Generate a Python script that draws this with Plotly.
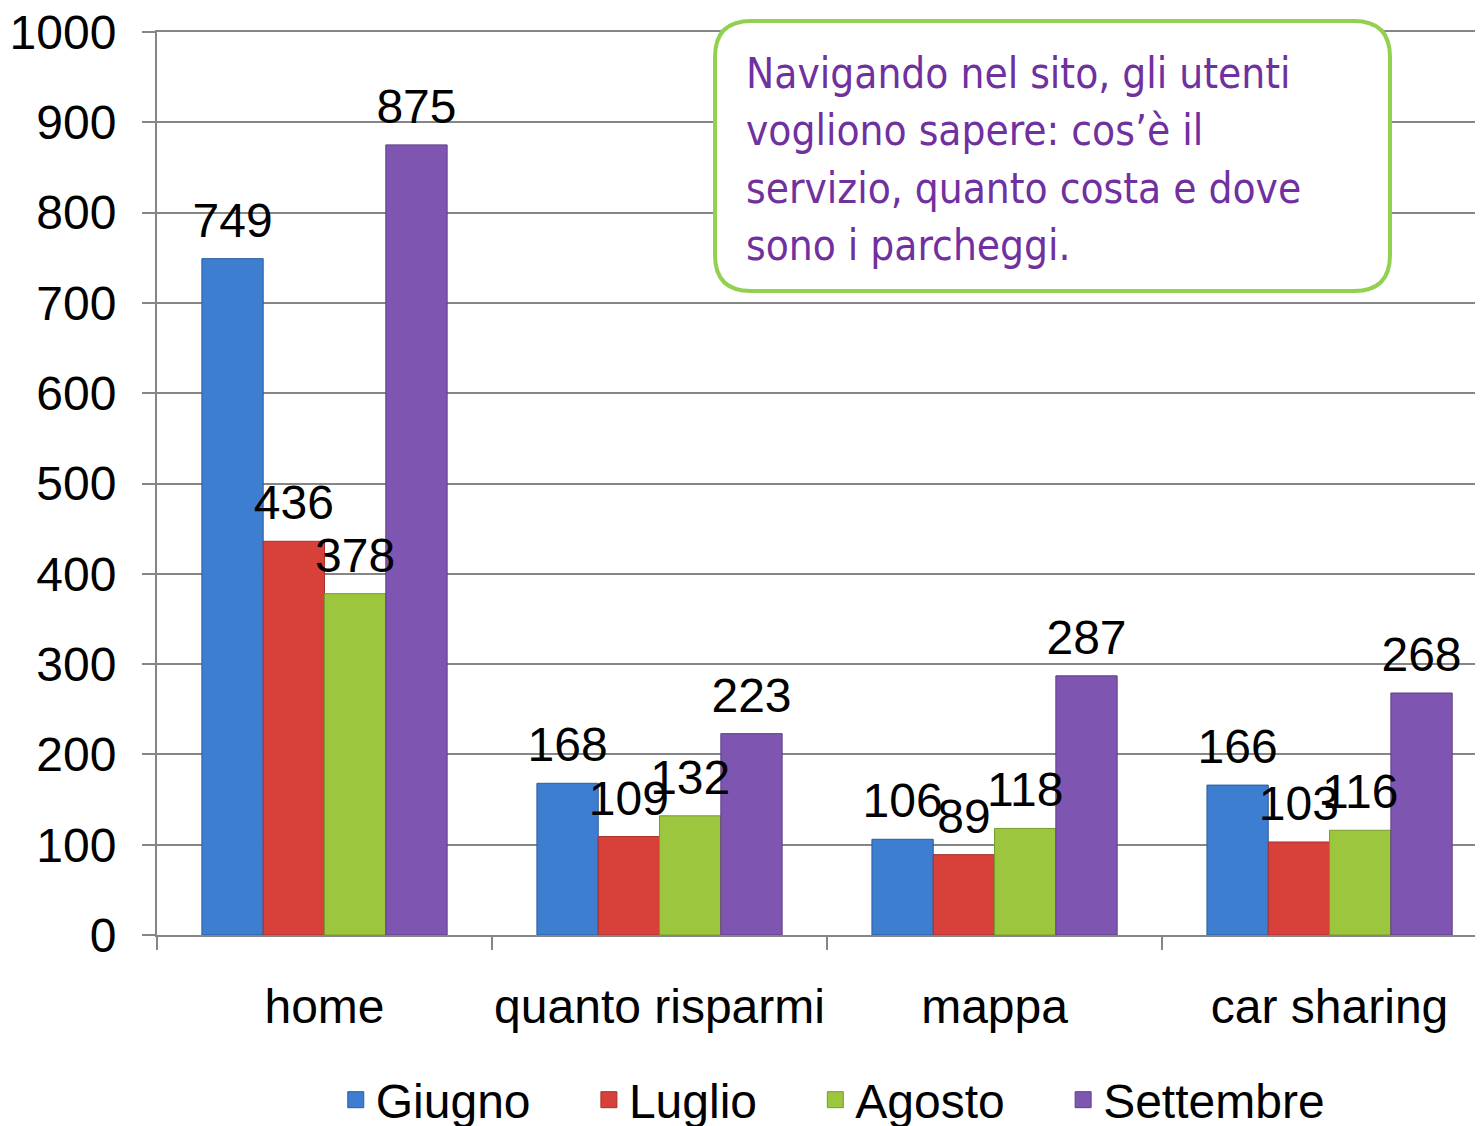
import plotly.graph_objects as go

categories = ["home", "quanto risparmi", "mappa", "car sharing"]
series_names = ["Giugno", "Luglio", "Agosto", "Settembre"]
giugno = [749, 168, 106, 166]
luglio = [436, 109, 89, 103]
agosto = [378, 132, 118, 116]
settembre = [875, 223, 287, 268]
y_ticks = [0, 100, 200, 300, 400, 500, 600, 700, 800, 900, 1000]
note_lines = ["Navigando nel sito, gli utenti",
              "vogliono sapere: cos\u2019\u00e8 il",
              "servizio, quanto costa e dove",
              "sono i parcheggi."]

colors = ["#3D7ED0", "#D8403A", "#9DC63F", "#7E56B1"]
edges = ["#2C5D9E", "#A6302C", "#789A2E", "#5E3F88"]
values = [giugno, luglio, agosto, settembre]

OFF = 8  # page body margin
W, H = 1483 - OFF, 1126 - OFF
ML, MR, MT = 157 - OFF, 0, 32 - OFF
MB = H - (935 - OFF)
PW, PH = W - ML - MR, H - MT - MB
FONT = "Liberation Sans, Arial"
FS = 48
LABEL_LIFT = 10  # extra gap between bar top and its value label (axis units)

fig = go.Figure()
for i, (name, vals, col, edg) in enumerate(zip(series_names, values, colors, edges)):
    fig.add_trace(go.Bar(
        x=categories, y=vals, name=name, legendgroup=name, showlegend=False,
        offsetgroup=f"g{i}",
        marker=dict(color=col, line=dict(width=1, color=edg)),
    ))
# value labels drawn on top of all bars
for i, (name, vals) in enumerate(zip(series_names, values)):
    fig.add_trace(go.Bar(
        x=categories, y=vals, base=LABEL_LIFT, name=name, legendgroup=name,
        showlegend=False, offsetgroup=f"g{i}", hoverinfo="skip",
        marker=dict(color="rgba(0,0,0,0)", line=dict(width=0)),
        text=[str(v) for v in vals], textposition="outside",
        textfont=dict(family=FONT, size=FS, color="black"),
        constraintext="none", cliponaxis=False,
    ))
# legend entries (square swatches)
for name, col, edg in zip(series_names, colors, edges):
    fig.add_trace(go.Scatter(
        x=[None], y=[None], mode="markers", name=name + "\u00a0" * 4,
        legendgroup=name, showlegend=True,
        marker=dict(symbol="square", size=22, color=col, line=dict(width=1, color=edg)),
    ))

def px(x):
    return (x - OFF - ML) / PW

def py(y):
    return (H - MB - (y - OFF)) / PH

# rounded box (page pixel coordinates)
x0, x1, y0, y1, r = 715, 1390, 21, 291, 36
pts = [
    f"M {px(x0 + r)} {py(y0)}",
    f"L {px(x1 - r)} {py(y0)}",
    f"Q {px(x1)} {py(y0)} {px(x1)} {py(y0 + r)}",
    f"L {px(x1)} {py(y1 - r)}",
    f"Q {px(x1)} {py(y1)} {px(x1 - r)} {py(y1)}",
    f"L {px(x0 + r)} {py(y1)}",
    f"Q {px(x0)} {py(y1)} {px(x0)} {py(y1 - r)}",
    f"L {px(x0)} {py(y0 + r)}",
    f"Q {px(x0)} {py(y0)} {px(x0 + r)} {py(y0)}",
    "Z",
]
fig.add_shape(type="path", xref="paper", yref="paper", path=" ".join(pts),
              line=dict(color="#92D050", width=4), fillcolor="white", layer="above")

for i, line in enumerate(note_lines):
    fig.add_annotation(xref="paper", yref="paper", x=px(744), y=py(47 + i * 57.5),
                       xanchor="left", yanchor="top", align="left", showarrow=False,
                       text=line,
                       font=dict(family="Liberation Sans Narrow, DejaVu Sans Condensed, Lato",
                                 size=42, color="#7030A0"))

fig.update_layout(
    width=W, height=H,
    margin=dict(l=ML, r=MR, t=MT, b=MB, autoexpand=False),
    barmode="group", bargap=0.268, bargroupgap=0,
    plot_bgcolor="white", paper_bgcolor="white",
    font=dict(family=FONT, size=FS, color="black"),
    showlegend=True,
    legend=dict(orientation="h", x=0.530, xanchor="center", yref="container",
                y=(H - (1100 - OFF)) / H, yanchor="middle",
                font=dict(size=FS), itemsizing="trace"),
    xaxis=dict(range=[-0.5, 3.458], showline=True, mirror=True, linecolor="#868686",
               linewidth=2, ticks="outside", tickson="boundaries", ticklen=13, tickwidth=2,
               tickcolor="#868686", showgrid=False, automargin=False, tickangle=0,
               tickfont=dict(size=FS), ticklabelstandoff=28),
    yaxis=dict(range=[0, 1000], tickvals=y_ticks, showline=True, linecolor="#868686",
               linewidth=2, ticks="outside", ticklen=13, tickwidth=2, tickcolor="#868686",
               showgrid=True, gridcolor="#868686", gridwidth=2, zeroline=False,
               automargin=False, tickfont=dict(size=FS), ticklabelstandoff=16,
               ticklabeloverflow="allow"),
)

fig.write_html("out.html")
